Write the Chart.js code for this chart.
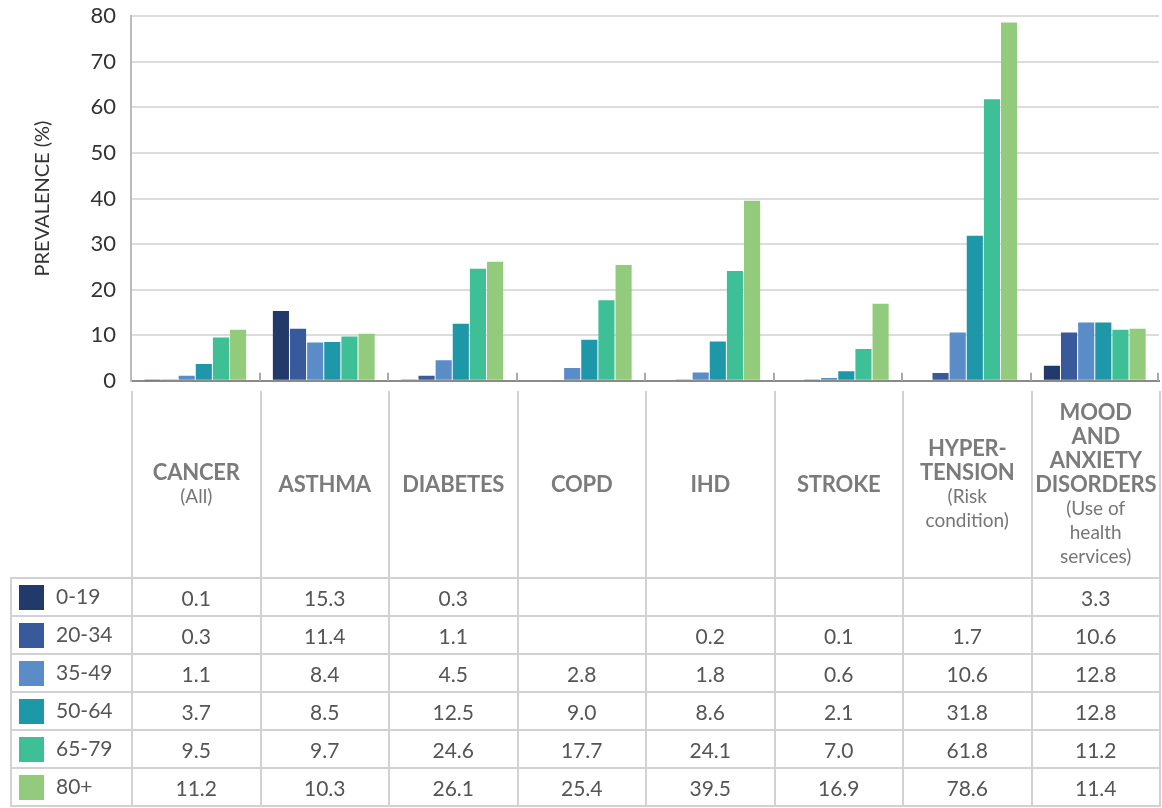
<!DOCTYPE html>
<html>
<head>
<meta charset="utf-8">
<script src="https://cdn.jsdelivr.net/npm/chart.js@4/dist/chart.umd.min.js"></script>
<style>
  html, body { margin: 0; padding: 0; background: #fff; }
  body { width: 1162px; height: 808px; position: relative; overflow: hidden; font-family: Lato, "Open Sans", sans-serif; }
  #wrap { position: absolute; left: 0; top: -12px; width: 1162px; height: 421px; }
  #tbl { position: absolute; left: 10px; top: 391px; border-collapse: collapse; table-layout: fixed; }
  #tbl td { border: 2px solid #d2d2d2; padding: 0; text-align: center; vertical-align: middle; }
  #tbl tr.head td { height: 186px; border-top: none; color: #7b7b7b; }
  #tbl tr.head td.blank { border: none; border-right: 2px solid #d2d2d2; }
  #tbl tr.row td { height: 36px; color: #555; font-size: 21px; }
  .h1 { font-weight: 700; font-size: 22px; line-height: 24px; white-space: nowrap; letter-spacing: -0.2px; }
  .h2 { font-weight: 400; font-size: 19px; line-height: 24px; white-space: nowrap; color: #767676; }
  #tbl td.leg { text-align: left; color: #555; font-size: 20px; }
  .sw { display: inline-block; width: 25px; height: 25px; vertical-align: middle; margin: 0 12px 0 7px; position: relative; top: -1px; }
</style>
</head>
<body>
<div id="wrap"><canvas id="c"></canvas></div>
<table id="tbl"></table>
<script>
const categories = ["CANCER", "ASTHMA", "DIABETES", "COPD", "IHD", "STROKE", "HYPER-\nTENSION", "MOOD\nAND\nANXIETY\nDISORDERS"];
const categoryNotes = ["(All)", "", "", "", "", "", "(Risk\ncondition)", "(Use of\nhealth\nservices)"];
const ageGroups = ["0-19", "20-34", "35-49", "50-64", "65-79", "80+"];
const colors = ["#213a6a", "#385a9a", "#5a8cc8", "#1e97a8", "#3ebf96", "#91cb7b"];
const age0_19  = [0.1, 15.3, 0.3, null, null, null, null, 3.3];
const age20_34 = [0.3, 11.4, 1.1, null, 0.2, 0.1, 1.7, 10.6];
const age35_49 = [1.1, 8.4, 4.5, 2.8, 1.8, 0.6, 10.6, 12.8];
const age50_64 = [3.7, 8.5, 12.5, 9.0, 8.6, 2.1, 31.8, 12.8];
const age65_79 = [9.5, 9.7, 24.6, 17.7, 24.1, 7.0, 61.8, 11.2];
const age80p   = [11.2, 10.3, 26.1, 25.4, 39.5, 16.9, 78.6, 11.4];
const yTicks = [0, 10, 20, 30, 40, 50, 60, 70, 80];
const series = [age0_19, age20_34, age35_49, age50_64, age65_79, age80p];

const FONT = 'Lato, "Open Sans", sans-serif';

const boundaryTicks = {
  id: 'boundaryTicks',
  afterDraw(chart) {
    const xs = chart.scales.x;
    const n = categories.length;
    const ctx = chart.ctx;
    const p = i => xs.getPixelForValue(i);
    const step = p(1) - p(0);
    const bottom = chart.chartArea.bottom;
    ctx.save();
    ctx.strokeStyle = '#aaaaaa';
    ctx.lineWidth = 2;
    for (let i = 1; i < n; i++) {
      const x = Math.round(p(i) - step / 2);
      ctx.beginPath();
      ctx.moveTo(x, bottom - 8);
      ctx.lineTo(x, bottom);
      ctx.stroke();
    }
    const xr = Math.round(p(n - 1) + step / 2) - 1;
    ctx.beginPath();
    ctx.moveTo(xr, bottom - 8);
    ctx.lineTo(xr, bottom);
    ctx.stroke();
    ctx.restore();
  }
};

const chart = new Chart(document.getElementById('c'), {
  type: 'bar',
  data: {
    labels: categories,
    datasets: ageGroups.map((g, i) => ({
      label: g,
      data: series[i],
      backgroundColor: colors[i],
      borderWidth: 0,
      categoryPercentage: 0.8,
      barPercentage: 0.94
    }))
  },
  options: {
    responsive: true,
    maintainAspectRatio: false,
    animation: false,
    layout: { padding: { top: 6, right: 3, left: 0, bottom: 0 } },
    plugins: { legend: { display: false }, tooltip: { enabled: false } },
    scales: {
      x: {
        ticks: { display: false },
        grid: { display: false },
        border: { display: true, color: '#8a8a8a', width: 2 },
        afterFit(s) { s.height = 11; }
      },
      y: {
        min: 0, max: 80,
        afterBuildTicks(s) { s.ticks = yTicks.map(v => ({ value: v })); },
        ticks: { color: '#333', font: { family: FONT, size: 22 }, padding: 15 },
        grid: { color: '#dcdcdc', lineWidth: 2, drawTicks: false },
        border: { display: true, color: '#bbbbbb', width: 2 },
        title: { display: true, text: 'PREVALENCE (%)', color: '#333', font: { family: FONT, size: 20 }, padding: { top: 31, bottom: 0 } },
        afterFit(s) { s.width = 131; }
      }
    }
  },
  plugins: [boundaryTicks]
});

// Build data table aligned with the x scale
(function buildTable() {
  const xs = chart.scales.x;
  const step = xs.getPixelForValue(1) - xs.getPixelForValue(0);
  const firstEdge = xs.getPixelForValue(0) - step / 2;
  const tbl = document.getElementById('tbl');
  const cg = document.createElement('colgroup');
  const c0 = document.createElement('col'); c0.style.width = (firstEdge - 10) + 'px'; cg.appendChild(c0);
  categories.forEach(() => { const c = document.createElement('col'); c.style.width = step + 'px'; cg.appendChild(c); });
  tbl.appendChild(cg);
  tbl.style.width = (firstEdge - 10 + step * categories.length) + 'px';

  const hr = document.createElement('tr'); hr.className = 'head';
  const blank = document.createElement('td'); blank.className = 'blank'; hr.appendChild(blank);
  categories.forEach((c, i) => {
    const td = document.createElement('td');
    const d1 = document.createElement('div'); d1.className = 'h1'; d1.innerText = c; td.appendChild(d1);
    if (categoryNotes[i]) { const d2 = document.createElement('div'); d2.className = 'h2'; d2.innerText = categoryNotes[i]; td.appendChild(d2); }
    hr.appendChild(td);
  });
  tbl.appendChild(hr);

  ageGroups.forEach((g, gi) => {
    const tr = document.createElement('tr'); tr.className = 'row';
    const lg = document.createElement('td'); lg.className = 'leg';
    const sw = document.createElement('span'); sw.className = 'sw'; sw.style.background = colors[gi];
    lg.appendChild(sw); lg.appendChild(document.createTextNode(g));
    tr.appendChild(lg);
    series[gi].forEach(v => {
      const td = document.createElement('td');
      td.textContent = (v === null) ? '' : v.toFixed(1);
      tr.appendChild(td);
    });
    tbl.appendChild(tr);
  });
})();
</script>
</body>
</html>
